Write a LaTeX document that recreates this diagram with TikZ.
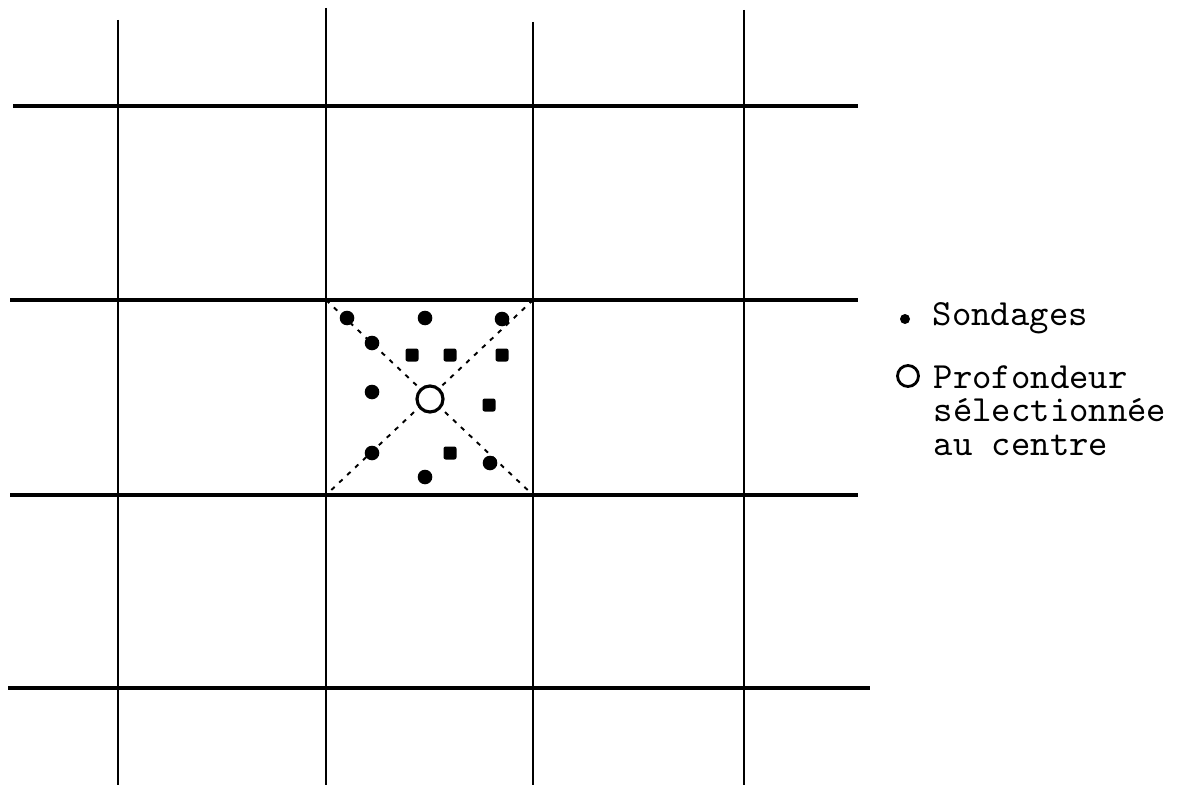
\documentclass[tikz,border=0pt]{standalone}
\begin{document}
\begin{tikzpicture}[x=0.01cm, y=-0.01cm,
    hline/.style={line width=0.9pt},
    vline/.style={line width=0.65pt},
    diag/.style={line width=0.55pt, dash pattern=on 1.3pt off 1.8pt},
    legend/.style={font=\fontsize{10.5}{9.4}\selectfont\ttfamily, inner sep=0pt}]
  \useasboundingbox (0,0) rectangle (1191,785);
  % quadrillage (lignes horizontales puis verticales)
  \foreach \y/\xa/\xb in {106/13/858, 300/10/858, 495/10/858, 688/8/870}
    \draw[hline] (\xa,\y) -- (\xb,\y);
  \foreach \x/\ya in {118/20, 326/8, 533/22, 744/10}
    \draw[vline] (\x,\ya) -- (\x,785);
  % maille centrale et ses diagonales
  \coordinate (NW) at (326,300);
  \coordinate (NE) at (533,300);
  \coordinate (SW) at (326,495);
  \coordinate (SE) at (533,495);
  \coordinate (M) at (430,399);
  \draw[diag] (NW) -- (SE);
  \draw[diag] (NE) -- (SW);
  % sondages
  \foreach \x/\y in {347/318, 425/318, 502/319, 372/343, 372/392,
                     372/453, 490/463, 425/477}
    \fill (\x,\y) circle (7.3);
  \foreach \x/\y in {412/355, 450/355, 502/355, 489/405, 450/453}
    \fill[rounded corners=0.6pt] (\x,\y) +(-6.5,-6.5) rectangle +(6.5,6.5);
  % profondeur selectionnee au centre
  \draw[line width=0.9pt, fill=white] (M) circle (13);
  % legende
  \fill (905,319) circle (5);
  \node[legend, anchor=base west] (sond) at (932,325) {Sondages};
  \draw[line width=0.8pt] (908,376) circle (10.5);
  \node[legend, anchor=base west, align=left] (prof) at (933,455)
    {Profondeur\\sélectionnée\\au centre};
\end{tikzpicture}
\end{document}
